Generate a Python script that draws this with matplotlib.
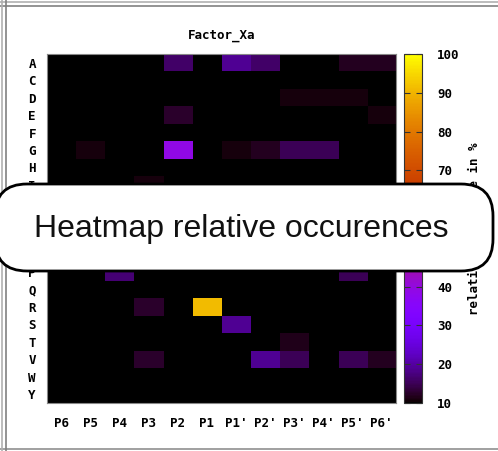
import matplotlib
matplotlib.use('Agg')
import matplotlib.pyplot as plt
from matplotlib.patches import FancyBboxPatch
from matplotlib.transforms import IdentityTransform
from matplotlib.lines import Line2D
import numpy as np

# rows = amino acids, columns = cleavage site positions
residues = ["A", "C", "D", "E", "F", "G", "H", "I", "K", "L",
            "M", "N", "P", "Q", "R", "S", "T", "V", "W", "Y"]
positions = ["P6", "P5", "P4", "P3", "P2", "P1", "P1'", "P2'", "P3'", "P4'", "P5'", "P6'"]

# relative occurence in % (values below 10 show as black)
occurence = [
    # P6 P5  P4  P3    P2  P1  P1'  P2' P3'   P4'  P5'  P6'
    [0,  0,  0,  0,    16, 0,  19,  16, 0,    0,   12,  12],   # A
    [0,  0,  0,  0,    0,  0,  0,   0,  0,    0,   0,   0],    # C
    [0,  0,  0,  0,    0,  0,  0,   0,  11,   11,  11,  0],    # D
    [0,  0,  0,  0,    12.5, 0, 0,  0,  0,    0,   0,   11],   # E
    [0,  0,  0,  0,    0,  0,  0,   0,  0,    0,   0,   0],    # F
    [0,  11, 0,  0,    39, 0,  11,  12, 15,   15,  0,   0],    # G
    [0,  0,  0,  0,    0,  0,  0,   0,  0,    0,   0,   0],    # H
    [0,  0,  0,  11,   0,  0,  0,   0,  0,    0,   0,   0],    # I
    [0,  0,  0,  0,    0,  0,  0,   0,  0,    0,   0,   0],    # K
    [0,  0,  0,  0,    0,  0,  0,   0,  0,    0,   0,   0],    # L
    [0,  0,  0,  0,    0,  0,  0,   0,  0,    0,   0,   0],    # M
    [0,  0,  0,  0,    0,  0,  0,   0,  0,    0,   0,   0],    # N
    [0,  0,  17, 0,    0,  0,  0,   0,  0,    0,   15,  0],    # P
    [0,  0,  0,  0,    0,  0,  0,   0,  0,    0,   0,   0],    # Q
    [0,  0,  0,  12.5, 0,  91, 0,   0,  0,    0,   0,   0],    # R
    [0,  0,  0,  0,    0,  0,  19,  0,  0,    0,   0,   0],    # S
    [0,  0,  0,  0,    0,  0,  0,   0,  11.5, 0,   0,   0],    # T
    [0,  0,  0,  12.5, 0,  0,  0,   19, 15,   0,   15,  12],   # V
    [0,  0,  0,  0,    0,  0,  0,   0,  0,    0,   0,   0],    # W
    [0,  0,  0,  0,    0,  0,  0,   0,  0,    0,   0,   0],    # Y
]

W, H = 498, 451
mono = {'family': 'DejaVu Sans Mono', 'weight': 'bold', 'size': 9}

fig = plt.figure(figsize=(W / 100, H / 100), dpi=100)

ax = fig.add_axes([47 / W, 1 - 403 / H, 349 / W, 349 / H])
im = ax.imshow(np.array(occurence), cmap='gnuplot', vmin=10, vmax=100,
               aspect='auto', interpolation='nearest')
ax.set_xticks(range(len(positions)))
ax.set_xticklabels(positions, fontdict=mono)
ax.set_yticks(range(len(residues)))
ax.set_yticklabels(residues, fontdict=mono)
ax.tick_params(axis='x', length=0, pad=10)
ax.tick_params(axis='y', length=0, pad=8)
for s in ax.spines.values():
    s.set_color('#888888')
    s.set_linewidth(0.8)

fig.text(221.5 / W, 1 - 35 / H, "Factor_Xa", ha='center', va='center', **mono)

cax = fig.add_axes([404 / W, 1 - 403 / H, 18 / W, 349 / H])
cb = fig.colorbar(im, cax=cax)
cb.set_ticks(range(10, 101, 10))
cax.tick_params(direction='in', length=4, left=True, right=True,
                labelright=True, pad=11, color='#333333')
for lab in cax.get_yticklabels():
    lab.set_fontfamily('DejaVu Sans Mono')
    lab.set_fontweight('bold')
    lab.set_fontsize(9)
cb.outline.set_edgecolor('#333333')
cb.outline.set_linewidth(0.8)
cb.set_label('relative occurence in %', fontdict=mono, labelpad=6)

# window frame lines
px = IdentityTransform()
for y, c in [(H - 2, '#b0b0b0'), (H - 6, '#808080'), (2, '#909090')]:
    fig.add_artist(Line2D([0, W], [y, y], transform=px, color=c, lw=1.2))
for x, c in [(2, '#b0b0b0'), (6, '#808080')]:
    fig.add_artist(Line2D([x, x], [0, H], transform=px, color=c, lw=1.2))

# overlay banner
box = FancyBboxPatch((-5, H - 271), 498, 87,
                     boxstyle="round,pad=0,rounding_size=32",
                     transform=px, facecolor='white', edgecolor='black',
                     lw=2, zorder=10)
fig.add_artist(box)
fig.text(241.5 / W, (H - 237) / H, "Heatmap relative occurences",
         ha='center', va='baseline', family='Liberation Sans',
         fontsize=23, color='#111111', zorder=11)

fig.savefig('out.png')
